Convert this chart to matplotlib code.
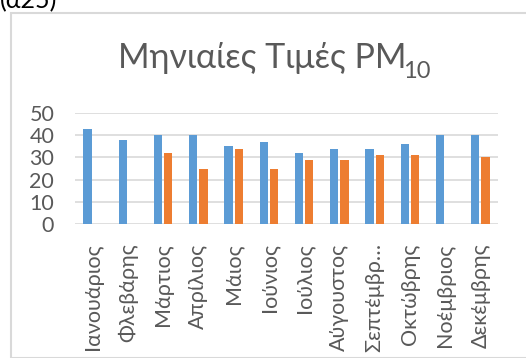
import matplotlib
matplotlib.use("Agg")
import matplotlib.pyplot as plt
import numpy as np
from matplotlib.patches import Rectangle

plt.rcParams['font.family'] = ['Lato', 'DejaVu Sans']

months = ["Ιανουάριος", "Φλεβάρης", "Μάρτιος", "Απρίλιος", "Μάιος", "Ιούνιος",
          "Ιούλιος", "Αύγουστος", "Σεπτέμβρ…", "Οκτώβρης", "Νοέμβριος", "Δεκέμβρης"]
series_a = [43, 38, 40, 40, 35, 37, 32, 34, 34, 36, 40, 40]
series_b = [np.nan, np.nan, 32, 25, 34, 25, 29, 29, 31, 31, np.nan, 30]
yticks = [0, 10, 20, 30, 40, 50]

blue = "#5B9BD5"
orange = "#ED7D31"
text_col = "#595959"
grid_col = "#D9D9D9"

fig = plt.figure(figsize=(5.26, 3.58), dpi=100)
W, H = 526, 358

# outer chart frame
fig.patches.append(Rectangle((11 / W, 0), 1, 1 - 13 / H, transform=fig.transFigure,
                             fill=False, edgecolor=grid_col, linewidth=1.5))

fig.text(0.0, 1 - 8 / H, "(α25)", fontsize=18, color="black", va="baseline", ha="left")

ax = fig.add_axes([75 / W, 1 - 224 / H, (498 - 75) / W, (224 - 113) / H])
x = np.arange(len(months))
bw = 0.23
off = 0.145
ax.bar(x - off, series_a, width=bw, color=blue, zorder=3)
ax.bar(x + off, series_b, width=bw, color=orange, zorder=3)

ax.set_xlim(-0.5, len(months) - 0.5)
ax.set_ylim(0, 50)
ax.set_yticks(yticks)
ax.set_xticks(x)
ax.set_xticklabels(months, rotation=90, va="top", ha="center")
ax.tick_params(axis="both", length=0, labelsize=15.5, labelcolor=text_col)
ax.tick_params(axis="y", pad=15)
ax.tick_params(axis="x", pad=14)
for s in ax.spines.values():
    s.set_visible(False)
ax.yaxis.grid(True, color=grid_col, linewidth=1.2, zorder=0)
ax.set_axisbelow(True)

# title with a hand-placed subscript
title = fig.text(406 / W, 1 - 68 / H, "Μηνιαίες Τιμές PM", fontsize=24.5,
                 color=text_col, ha="right", va="baseline")
fig.canvas.draw()
bb = title.get_window_extent(fig.canvas.get_renderer())
fig.text((bb.x1 - 3) / W, 1 - 78 / H, "10", fontsize=17,
         color=text_col, ha="left", va="baseline")

fig.savefig("out.png", dpi=100)
